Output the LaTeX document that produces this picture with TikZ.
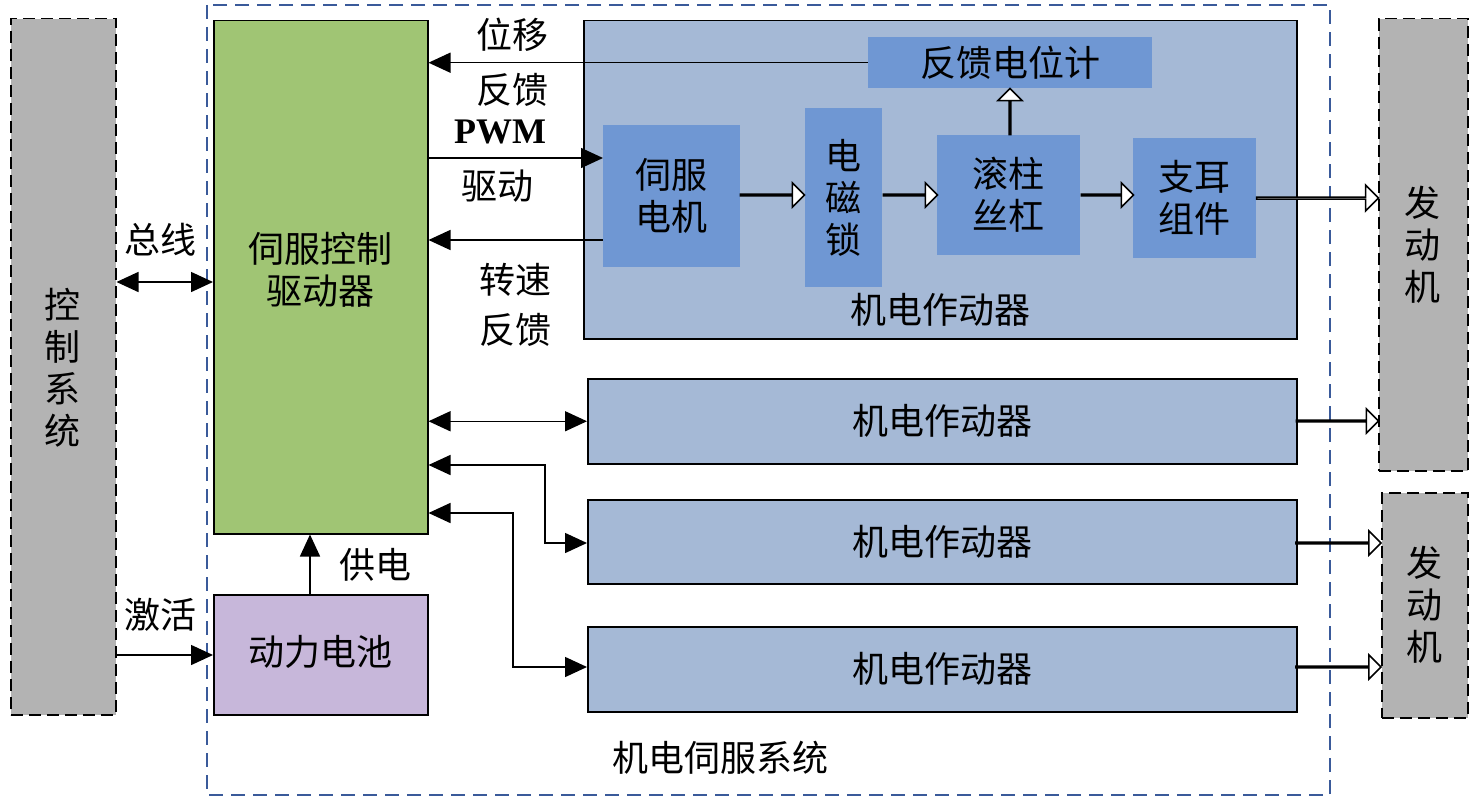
\documentclass[tikz,border=0pt]{standalone}
\usepackage{fontspec}
\setmainfont{Liberation Serif}
\newfontfamily\cjk{Noto Sans CJK SC}
\usetikzlibrary{arrows.meta,shapes.arrows}
\definecolor{outerblue}{HTML}{A5B9D6}
\definecolor{innerblue}{HTML}{6F97D3}
\definecolor{grn}{HTML}{A0C574}
\definecolor{purp}{HTML}{C7B7DA}
\definecolor{gry}{HTML}{B3B3B3}
\definecolor{dblue}{HTML}{3A5A9A}
\tikzset{
 x=1pt,y=-1pt,
 txt/.style={font=\cjk\fontsize{36}{42}\selectfont, align=center, inner sep=0},
 box/.style={draw=black, line width=1.5pt, inner sep=0},
 gbox/.style={draw=black, line width=1.5pt, dash pattern=on 12pt off 6pt, fill=gry, inner sep=0},
 ibox/.style={fill=innerblue, inner sep=0},
 conn/.style={line width=1.5pt, -{Triangle[length=22pt,width=20pt]}},
 dconn/.style={line width=1.5pt, {Triangle[length=22pt,width=20pt]}-{Triangle[length=22pt,width=20pt]}},
 hollow/.style={single arrow, draw=black, fill=white, line width=1.5pt, single arrow head extend=9pt, minimum width=24pt, inner sep=0, shape border rotate=#1},
}
\newcommand{\boxat}[5]{\node[#1, minimum width=#4-#2, minimum height=#5-#3, anchor=north west] at (#2,#3)}
\begin{document}
\begin{tikzpicture}
\useasboundingbox[fill=white] (0,0) rectangle (1479,800);
% outer system
\draw[dblue, line width=1.2pt, dash pattern=on 14pt off 8pt] (207,5) rectangle (1330,795);
\node[txt] at (720,758) {机电伺服系统};
% control system
\boxat{gbox}{10}{18}{115}{714} (ctrl) {};
\node[txt] at (62,368) {控\\制\\系\\统};
% green
\boxat{box,fill=grn}{213}{20}{427}{533} (drv) {};
\node[txt] at (320,270) {伺服控制\\驱动器};
% purple
\boxat{box,fill=purp}{213}{594}{427}{714} (bat) {};
\node[txt] at (320,652) {动力电池};
\draw[conn] (bat.north -| 310,0) -- (drv.south -| 310,0);
\node[txt] at (375,565) {供电};
\draw[conn] (ctrl.east |- 0,655) -- (bat.west |- 0,655);
\node[txt] at (160,615) {激活};
\draw[dconn] (ctrl.east |- 0,282) -- (drv.west |- 0,282);
\node[txt] at (160,240) {总线};
% actuator 1
\boxat{box,fill=outerblue}{583}{20}{1296}{338} (a1) {};
\node[txt] at (940,310) {机电作动器};
\boxat{ibox}{868}{37}{1152}{88} (fb) {};
\node[txt] at (fb) {反馈电位计};
\boxat{ibox}{603}{125}{740}{267} (mot) {};
\node[txt] at (mot) {伺服\\电机};
\boxat{ibox}{805}{108}{882}{287} (lock) {};
\node[txt] at (lock) {电\\磁\\锁};
\boxat{ibox}{937}{135}{1080}{255} (screw) {};
\node[txt] at (screw) {滚柱\\丝杠};
\boxat{ibox}{1133}{138}{1256}{258} (ear) {};
\node[txt] at (ear) {支耳\\组件};
\node[hollow=0, minimum height=64pt] at (772,195) {};
\node[hollow=0, minimum height=54pt] at (910,195) {};
\node[hollow=0, minimum height=52pt] at (1107,195) {};
\node[hollow=90, minimum height=46pt] at (1010,112) {};
\draw[conn] (fb.west) -- (drv.east |- fb.west);
\node[txt] at (512,35) {位移};
\node[txt] at (512,90) {反馈};
\draw[conn] (drv.east |- 0,158) -- (mot.west |- 0,158);
\node[font=\bfseries\fontsize{36}{42}\selectfont, inner sep=0] at (500,132) {PWM};
\node[txt] at (497,186) {驱动};
\draw[conn] (mot.west |- 0,240) -- (drv.east |- 0,240);
\node[txt] at (515,280) {转速};
\node[txt] at (515,330) {反馈};
% other actuators
\boxat{box,fill=outerblue}{587}{378}{1296}{463} (a2) {};
\node[txt] at (a2) {机电作动器};
\boxat{box,fill=outerblue}{587}{499}{1296}{583} (a3) {};
\node[txt] at (a3) {机电作动器};
\boxat{box,fill=outerblue}{587}{626}{1296}{711} (a4) {};
\node[txt] at (a4) {机电作动器};
\draw[dconn] (drv.east |- a2.west) -- (a2.west);
\draw[dconn] (drv.east |- 0,465) -| (545,543) -- (a3.west |- 0,543);
\draw[dconn] (drv.east |- 0,513) -| (513,667) -- (a4.west |- 0,667);
% engines
\boxat{gbox}{1378}{18}{1467}{470} (e1) {};
\node[txt] at (1422,245) {发\\动\\机};
\boxat{gbox}{1381}{492}{1467}{717} (e2) {};
\node[txt] at (1424,605) {发\\动\\机};
\node[hollow=0, minimum height=122pt, minimum width=26pt] at (1317,198) {};
\node[hollow=0, minimum height=82pt] at (1337,421) {};
\node[hollow=0, minimum height=85pt] at (1338,543) {};
\node[hollow=0, minimum height=85pt] at (1338,667) {};
\end{tikzpicture}
\end{document}
